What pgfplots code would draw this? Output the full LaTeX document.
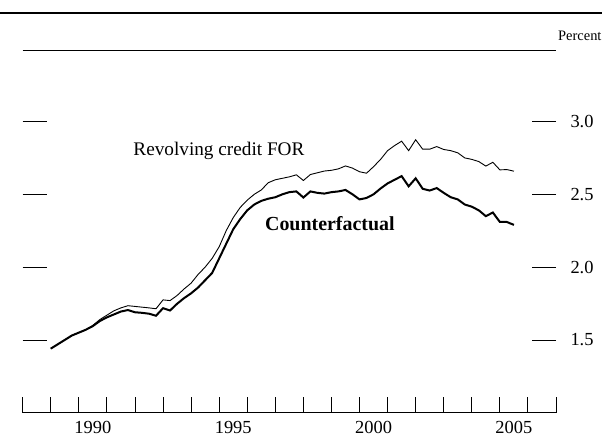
\documentclass[border=0pt]{standalone}
\usepackage{fontspec}
\setmainfont{Liberation Serif}
\usepackage{pgfplots}
\usepackage{pgfplotstable}
\pgfplotsset{compat=1.18}

\pgfplotstableread{
t up lo
1989.00 1.440 1.440
1989.25 1.470 1.470
1989.50 1.500 1.500
1989.75 1.530 1.530
1990.00 1.550 1.550
1990.25 1.570 1.570
1990.50 1.600 1.595
1990.75 1.640 1.630
1991.00 1.670 1.655
1991.25 1.700 1.675
1991.50 1.720 1.695
1991.75 1.735 1.705
1992.00 1.730 1.690
1992.25 1.725 1.686
1992.50 1.720 1.680
1992.75 1.714 1.666
1993.00 1.775 1.718
1993.25 1.770 1.702
1993.50 1.805 1.748
1993.75 1.850 1.787
1994.00 1.890 1.820
1994.25 1.950 1.860
1994.50 2.000 1.910
1994.75 2.060 1.960
1995.00 2.140 2.060
1995.25 2.250 2.160
1995.50 2.340 2.260
1995.75 2.410 2.330
1996.00 2.460 2.390
1996.25 2.500 2.430
1996.50 2.530 2.455
1996.75 2.580 2.470
1997.00 2.600 2.480
1997.25 2.610 2.500
1997.50 2.620 2.515
1997.75 2.634 2.520
1998.00 2.595 2.478
1998.25 2.636 2.520
1998.50 2.648 2.510
1998.75 2.660 2.505
1999.00 2.665 2.515
1999.25 2.675 2.520
1999.50 2.695 2.530
1999.75 2.680 2.500
2000.00 2.655 2.465
2000.25 2.645 2.475
2000.50 2.690 2.500
2000.75 2.740 2.540
2001.00 2.800 2.575
2001.25 2.835 2.600
2001.50 2.865 2.625
2001.75 2.800 2.555
2002.00 2.875 2.610
2002.25 2.810 2.538
2002.50 2.810 2.526
2002.75 2.828 2.543
2003.00 2.808 2.510
2003.25 2.800 2.480
2003.50 2.785 2.465
2003.75 2.750 2.430
2004.00 2.740 2.415
2004.25 2.725 2.390
2004.50 2.694 2.350
2004.75 2.720 2.375
2005.00 2.668 2.310
2005.25 2.670 2.310
2005.50 2.659 2.290
}\data

\begin{document}
\begin{tikzpicture}
\useasboundingbox (-22.7bp,-26.3bp) rectangle (579.3bp,412.7bp);
\begin{axis}[
  at={(0,0)}, anchor=south west,
  scale only axis, width=533.3bp, height=362.5bp,
  xmin=1988, xmax=2007, ymin=1.0, ymax=3.49,
  separate axis lines,
  y axis line style={draw=none},
  x axis line style={line width=0.7bp},
  xtick={1990.5,1995.5,2000.5,2005.5},
  xticklabels={1990,1995,2000,2005},
  major x tick style={draw=none},
  minor xtick={1988,1989,...,2007},
  minor tick length=16bp,
  minor x tick style={line width=0.8bp, black},
  xtick pos=bottom,
  ytick={1.5,2,2.5,3},
  yticklabels={1.5,2.0,2.5,3.0},
  ytick pos=both,
  yticklabel pos=right,
  major tick length=24bp,
  tick align=inside,
  major y tick style={line width=0.8bp, black},
  ticklabel style={font=\fontsize{18.5}{22}\selectfont},
  yticklabel style={xshift=11bp},
  xticklabel style={yshift=-5bp},
  clip=false,
]
\addplot[black, line width=0.9bp] table[x=t,y=up]{\data};
\addplot[black, line width=2bp] table[x=t,y=lo]{\data};
\node[anchor=base west, inner sep=0, font=\fontsize{19.3}{23}\selectfont] at (axis cs:1991.94,2.767) {Revolving credit FOR};
\node[anchor=base west, inner sep=0, font=\fontsize{20}{24}\selectfont\bfseries] at (axis cs:1996.63,2.251) {Counterfactual};
\end{axis}
\draw[line width=1.8bp] (-22.7bp,399.7bp) -- (579.3bp,399.7bp);
\node[anchor=east, inner sep=0, font=\fontsize{14.5}{16}\selectfont] at (579bp,376.7bp) {Percent};
\end{tikzpicture}
\end{document}
